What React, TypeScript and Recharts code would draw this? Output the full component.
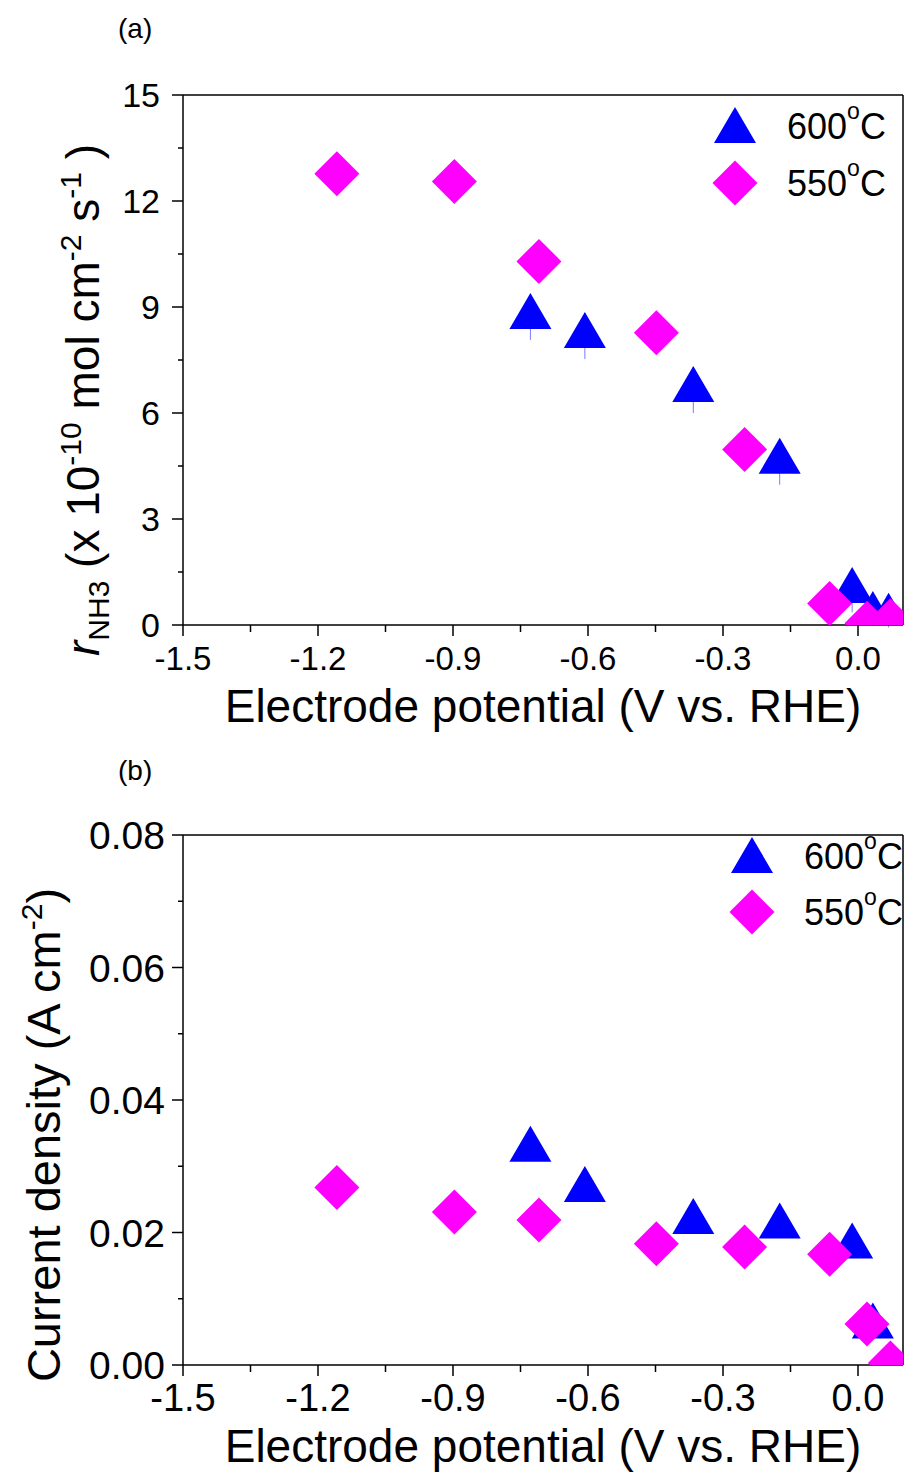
import React from 'react';
import {
  ScatterChart,
  Scatter,
  XAxis,
  YAxis,
  ReferenceLine,
  ErrorBar,
  Legend,
  Label,
} from 'recharts';

const FONT = '"Liberation Sans", Arial, Helvetica, sans-serif';

// electrode potential (V vs. RHE)
const potential600 = [-0.728, -0.607, -0.366, -0.174, -0.013, 0.033, 0.068];
const potential550 = [-1.158, -0.897, -0.709, -0.448, -0.252, -0.063, 0.02, 0.072];

// (a) NH3 formation rate, x 1e-10 mol cm-2 s-1
const rate600 = [8.72, 8.18, 6.65, 4.62, 0.96, 0.28, 0.23];
const rateErr600 = [0.65, 0.65, 0.65, 0.65, 0.6, 0.3, 0.3];
const rate550 = [12.77, 12.55, 10.29, 8.27, 4.97, 0.61, 0.05, 0.12];

// (b) current density, A cm-2
const current600 = [0.0325, 0.0264, 0.0216, 0.0209, 0.0179, 0.0058];
const current550 = [0.0268, 0.0231, 0.0219, 0.0183, 0.0178, 0.0167, 0.0062, 0.0003];

const seriesNames = ['600', '550'];

const xMajor = [-1.5, -1.2, -0.9, -0.6, -0.3, 0.0];
const xMinor = [-1.35, -1.05, -0.75, -0.45, -0.15];
const rateMajor = [0, 3, 6, 9, 12, 15];
const rateMinor = [1.5, 4.5, 7.5, 10.5, 13.5];
const currentMajor = [0, 0.02, 0.04, 0.06, 0.08];
const currentMinor = [0.01, 0.03, 0.05, 0.07];

const BLUE = '#0000ff';
const MAGENTA = '#ff00ff';

const isMajor = (v: number, list: number[]) => list.some((m) => Math.abs(m - v) < 1e-9);

const triangle = (cx: number, cy: number) =>
  `${cx},${cy - 24} ${cx + 21},${cy + 12} ${cx - 21},${cy + 12}`;
const diamond = (cx: number, cy: number) =>
  `${cx},${cy - 22.5} ${cx + 22.5},${cy} ${cx},${cy + 22.5} ${cx - 22.5},${cy}`;

const TriangleShape = (props: any) => <polygon points={triangle(props.cx, props.cy)} fill={BLUE} />;
const DiamondShape = (props: any) => <polygon points={diamond(props.cx, props.cy)} fill={MAGENTA} />;

const makeXTick = (fontSize: number, dy: number) => (props: any) => {
  const { x, y, payload } = props;
  const major = isMajor(payload.value, xMajor);
  return (
    <g>
      <line x1={x} x2={x} y1={y} y2={y + (major ? 11 : 7)} stroke="#000" strokeWidth={1.5} />
      {major && (
        <text x={x} y={y + dy} textAnchor="middle" fontSize={fontSize} fontFamily={FONT} fill="#000">
          {payload.value.toFixed(1)}
        </text>
      )}
    </g>
  );
};

const makeYTick = (majors: number[], digits: number, fontSize: number, gap: number) => (props: any) => {
  const { x, y, payload } = props;
  const major = isMajor(payload.value, majors);
  return (
    <g>
      <line x1={x} x2={x - (major ? 11 : 5)} y1={y} y2={y} stroke="#000" strokeWidth={1.5} />
      {major && (
        <text x={x - gap} y={y} dy="0.36em" textAnchor="end" fontSize={fontSize} fontFamily={FONT} fill="#000">
          {payload.value.toFixed(digits)}
        </text>
      )}
    </g>
  );
};

const xTitle = (props: any) => {
  const vb = props.viewBox || { x: 183, y: 625, width: 720 };
  return (
    <text x={vb.x + vb.width / 2} y={vb.y + 97} textAnchor="middle" fontSize={46} fontFamily={FONT} fill="#000">
      Electrode potential (V vs. RHE)
    </text>
  );
};

const rateTitle = () => {
  const cx = 99;
  const cy = 400;
  return (
    <text
      x={cx}
      y={cy}
      transform={`rotate(-90, ${cx}, ${cy})`}
      textAnchor="middle"
      fontSize={46}
      fontFamily={FONT}
      fill="#000"
    >
      <tspan fontStyle="italic">r</tspan>
      <tspan fontSize={30} dy={10}>NH3</tspan>
      <tspan dy={-10}>{' (x 10'}</tspan>
      <tspan fontSize={30} dy={-18}>-10</tspan>
      <tspan dy={18}>{' mol cm'}</tspan>
      <tspan fontSize={30} dy={-18}>-2</tspan>
      <tspan dy={18}>{' s'}</tspan>
      <tspan fontSize={30} dy={-18}>-1</tspan>
      <tspan dy={18}>{' )'}</tspan>
    </text>
  );
};

const currentTitle = () => {
  const cx = 60;
  const cy = 395;
  return (
    <text
      x={cx}
      y={cy}
      transform={`rotate(-90, ${cx}, ${cy})`}
      textAnchor="middle"
      fontSize={47}
      fontFamily={FONT}
      fill="#000"
    >
      <tspan>Current density (A cm</tspan>
      <tspan fontSize={30} dy={-18}>-2</tspan>
      <tspan dy={18}>)</tspan>
    </text>
  );
};

const makeLegend = (rowTop: number, rowGap: number) => () => (
  <svg width={220} height={130} style={{ overflow: 'visible' }}>
    {seriesNames.map((name, i) => {
      const cy = rowTop + i * rowGap;
      return (
        <g key={name}>
          {i === 0 ? (
            <polygon points={triangle(35, cy + 5)} fill={BLUE} />
          ) : (
            <polygon points={diamond(35, cy)} fill={MAGENTA} />
          )}
          <text x={87} y={cy + 13} fontSize={36} fontFamily={FONT} fill="#000">
            {name}
            <tspan fontSize={23} dy={-20}>o</tspan>
            <tspan dy={20}>C</tspan>
          </text>
        </g>
      );
    })}
  </svg>
);

const rate600Data = rate600.map((v, i) => ({ x: potential600[i], y: v, err: rateErr600[i] }));
const rate550Data = rate550.map((v, i) => ({ x: potential550[i], y: v }));
const current600Data = current600.map((v, i) => ({ x: potential600[i], y: v }));
const current550Data = current550.map((v, i) => ({ x: potential550[i], y: v }));

const axisLine = { stroke: '#000', strokeWidth: 1.5 };

export default function App() {
  return (
    <div
      style={{
        position: 'absolute',
        left: 0,
        top: 0,
        width: 907,
        height: 1475,
        overflow: 'hidden',
        background: '#fff',
        fontFamily: FONT,
      }}
    >
      <div style={{ position: 'absolute', left: 118, top: 13, fontSize: 28 }}>(a)</div>
      <div style={{ position: 'absolute', left: 118, top: 755, fontSize: 28 }}>(b)</div>

      <div style={{ position: 'absolute', left: 0, top: 0 }}>
        <ScatterChart width={907} height={740} margin={{ top: 95, right: 4, bottom: 0, left: 0 }}>
          <XAxis
            type="number"
            dataKey="x"
            domain={[-1.5, 0.1]}
            ticks={[...xMajor, ...xMinor]}
            interval={0}
            tickSize={0}
            tickMargin={0}
            tickLine={false}
            tick={makeXTick(33, 45)}
            axisLine={axisLine}
            height={115}
            allowDataOverflow
          >
            <Label content={xTitle} />
          </XAxis>
          <YAxis
            type="number"
            dataKey="y"
            domain={[0, 15]}
            ticks={[...rateMajor, ...rateMinor]}
            interval={0}
            tickSize={0}
            tickMargin={0}
            tickLine={false}
            tick={makeYTick(rateMajor, 0, 34, 23)}
            axisLine={axisLine}
            width={183}
            allowDataOverflow
          >
            <Label content={rateTitle} />
          </YAxis>
          <ReferenceLine y={15} stroke="#000" strokeWidth={1.5} />
          <ReferenceLine x={0.1} stroke="#000" strokeWidth={1.5} />
          <Scatter name={seriesNames[0]} data={rate600Data} fill={BLUE} shape={TriangleShape} isAnimationActive={false}>
            <ErrorBar dataKey="err" direction="y" width={0} stroke="#7a7aff" strokeWidth={1} />
          </Scatter>
          <Scatter name={seriesNames[1]} data={rate550Data} fill={MAGENTA} shape={DiamondShape} isAnimationActive={false} />
          <Legend
            layout="vertical"
            align="center"
            verticalAlign="middle"
            content={makeLegend(31, 57)}
            wrapperStyle={{ left: 700, top: 95, width: 220, height: 130 }}
          />
        </ScatterChart>
      </div>

      <div style={{ position: 'absolute', left: 0, top: 740 }}>
        <ScatterChart width={907} height={735} margin={{ top: 95, right: 4, bottom: 0, left: 0 }}>
          <XAxis
            type="number"
            dataKey="x"
            domain={[-1.5, 0.1]}
            ticks={[...xMajor, ...xMinor]}
            interval={0}
            tickSize={0}
            tickMargin={0}
            tickLine={false}
            tick={makeXTick(38, 46)}
            axisLine={axisLine}
            height={110}
            allowDataOverflow
          >
            <Label content={xTitle} />
          </XAxis>
          <YAxis
            type="number"
            dataKey="y"
            domain={[0, 0.08]}
            ticks={[...currentMajor, ...currentMinor]}
            interval={0}
            tickSize={0}
            tickMargin={0}
            tickLine={false}
            tick={makeYTick(currentMajor, 2, 39, 18)}
            axisLine={axisLine}
            width={183}
            allowDataOverflow
          >
            <Label content={currentTitle} />
          </YAxis>
          <ReferenceLine y={0.08} stroke="#000" strokeWidth={1.5} />
          <ReferenceLine x={0.1} stroke="#000" strokeWidth={1.5} />
          <Scatter name={seriesNames[0]} data={current600Data} fill={BLUE} shape={TriangleShape} isAnimationActive={false} />
          <Scatter name={seriesNames[1]} data={current550Data} fill={MAGENTA} shape={DiamondShape} isAnimationActive={false} />
          <Legend
            layout="vertical"
            align="center"
            verticalAlign="middle"
            content={makeLegend(21, 56)}
            wrapperStyle={{ left: 717, top: 95, width: 220, height: 130 }}
          />
        </ScatterChart>
      </div>
    </div>
  );
}
